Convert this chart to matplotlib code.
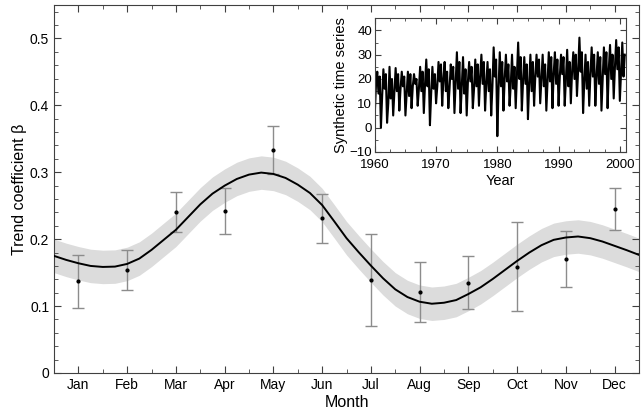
import numpy as np
import matplotlib
matplotlib.use("Agg")
import matplotlib.pyplot as plt
from matplotlib.ticker import MultipleLocator

plt.rcParams['font.family'] = ['Liberation Sans', 'DejaVu Sans']

# Datos mensuales: coeficiente de tendencia y su error
meses = ["Jan", "Feb", "Mar", "Apr", "May", "Jun",
         "Jul", "Aug", "Sep", "Oct", "Nov", "Dec"]
beta = [0.137, 0.154, 0.240, 0.242, 0.333, 0.231,
        0.139, 0.121, 0.135, 0.159, 0.170, 0.245]
beta_err = [0.040, 0.030, 0.030, 0.034, 0.036, 0.037,
            0.069, 0.045, 0.040, 0.066, 0.042, 0.031]

# Curva ajustada, leída cada cuarto de mes (0.5 .. 12.5)
curva_x = np.arange(0.5, 12.51, 0.25)
curva_y = [0.175, 0.169, 0.164, 0.160, 0.1585, 0.159, 0.163, 0.171, 0.184,
           0.199, 0.214, 0.233, 0.252, 0.268, 0.280, 0.290, 0.2965, 0.2995,
           0.2975, 0.2915, 0.2815, 0.269, 0.251, 0.2265, 0.2015, 0.1805,
           0.1605, 0.1415, 0.125, 0.1135, 0.1065, 0.1035, 0.105, 0.109,
           0.118, 0.128, 0.1405, 0.154, 0.1675, 0.180, 0.191, 0.199, 0.2025,
           0.204, 0.2015, 0.1965, 0.190, 0.1835, 0.1765]
banda = 0.025  # semiancho de la banda de confianza

# Serie sintética del recuadro: valle, subida, pico, bajada y repunte de cada año
anios = np.arange(1960, 2001)
serie_valle = [6, 0, 2, 5, 7, 5, 8, 9, 6, 1, 10, 9, 8, 6, 6, 5, 8, 9, 7, 5,
               -3.5, 7, 9, 8, 7, 3.5, 9, 10, 7, 8, 9, 9, 10, 13, 6, 9, 9, 7,
               8, 12, 11]
serie_subida = [18, 13, 10, 15, 16, 14, 17, 16, 18, 14, 17, 20, 16, 18, 17,
                19, 16, 21, 18, 17, 16, 20, 18, 22, 19, 18, 21, 20, 19, 22,
                21, 20, 23, 24, 19, 22, 21, 20, 24, 25, 23]
serie_pico = [23, 24, 25, 24.5, 23, 23, 22, 25, 28, 25, 27, 27, 26, 31, 29,
              27, 28, 30, 27, 33, 31, 30, 30, 35, 29, 30, 30, 30, 31, 31, 30,
              32, 31, 37, 30, 33, 31, 33, 34, 36, 35]
serie_bajada = [14, 16, 12, 15, 17, 13, 18, 15, 17, 16, 19, 15, 20, 16, 14,
                19, 17, 18, 15, 21, 17, 19, 16, 20, 18, 15, 21, 17, 19, 18,
                22, 17, 20, 23, 16, 21, 18, 22, 20, 24, 21]
serie_repunte = [21, 22, 20, 22, 21, 22, 20, 23, 24, 22, 26, 23, 25, 27, 24,
                 25, 26, 27, 24, 28, 27, 26, 25, 29, 26, 27, 28, 26, 29, 28,
                 29, 27, 30, 31, 27, 30, 29, 31, 30, 33, 30]
fase = [0.0, 0.2, 0.4, 0.6, 0.8]

fig = plt.figure(figsize=(6.44, 4.13), dpi=100)
ax = fig.add_axes([0.0839, 0.0969, 0.9083, 0.891])

x_meses = np.arange(1, 13)
curva_y = np.array(curva_y)
ax.fill_between(curva_x, curva_y - banda, curva_y + banda,
                color='#dcdcdc', linewidth=0, zorder=1)
ax.plot(curva_x, curva_y, color='black', linewidth=1.4, zorder=3)
ax.errorbar(x_meses, beta, yerr=beta_err, fmt='none', ecolor='#8c8c8c',
            elinewidth=1.0, capsize=4, capthick=1.0, zorder=2)
ax.plot(x_meses, beta, 'o', color='black', markersize=2.0, zorder=4)

ax.set_xlim(0.5, 12.5)
ax.set_ylim(0, 0.55)
ax.set_xticks(x_meses)
ax.set_xticklabels(meses)
ax.xaxis.set_minor_locator(MultipleLocator(0.5))
ax.set_yticks([0, 0.1, 0.2, 0.3, 0.4, 0.5])
ax.set_yticklabels(["0", "0.1", "0.2", "0.3", "0.4", "0.5"])
ax.yaxis.set_minor_locator(MultipleLocator(0.02))
ax.tick_params(which='both', direction='in', top=True, right=True,
               colors='#404040', labelcolor='black', labelsize=10)
ax.tick_params(which='major', length=5)
ax.tick_params(which='minor', length=3)
for lado in ax.spines.values():
    lado.set_color('#404040')
ax.set_xlabel("Month", fontsize=11.5, labelpad=2)
ax.set_ylabel("Trend coefficient β", fontsize=11.5, labelpad=2)

# Recuadro con la serie temporal
ins = fig.add_axes([0.582, 0.632, 0.390, 0.324])
t = (anios[:, None] + np.array(fase)[None, :]).ravel()
v = np.column_stack([serie_valle, serie_subida, serie_pico,
                     serie_bajada, serie_repunte]).ravel()
ins.plot(t, v, color='black', linewidth=1.5)
ins.set_xlim(1960, 2001)
ins.set_ylim(-10, 45)
ins.set_xticks([1960, 1970, 1980, 1990, 2000])
ins.xaxis.set_minor_locator(MultipleLocator(2.5))
ins.set_yticks([-10, 0, 10, 20, 30, 40])
ins.yaxis.set_minor_locator(MultipleLocator(5))
ins.tick_params(which='both', direction='in', top=True, right=True,
                colors='#404040', labelcolor='black', labelsize=9.5)
ins.tick_params(axis='x', pad=5)
ins.tick_params(axis='y', pad=2)
ins.tick_params(which='major', length=4)
ins.tick_params(which='minor', length=2.5)
for lado in ins.spines.values():
    lado.set_color('#404040')
ins.set_xlabel("Year", fontsize=10.5, labelpad=2)
ins.set_ylabel("Synthetic time series", fontsize=10.5, labelpad=1)

fig.savefig("out.png", dpi=100)
